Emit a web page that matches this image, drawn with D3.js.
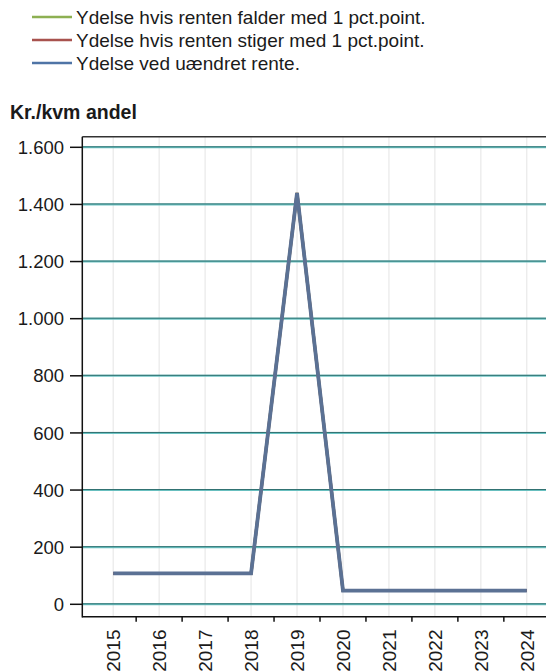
<!DOCTYPE html>
<html>
<head>
<meta charset="utf-8">
<script src="https://cdn.jsdelivr.net/npm/d3@7"></script>
<style>
  html, body { margin: 0; padding: 0; background: #fff; }
  svg { display: block; font-family: "Liberation Sans", Arial, sans-serif; }
</style>
</head>
<body>
<svg id="chart" width="546" height="672"></svg>
<script>
const years = ["2015","2016","2017","2018","2019","2020","2021","2022","2023","2024"];
const seriesNames = [
  "Ydelse hvis renten falder med 1 pct.point.",
  "Ydelse hvis renten stiger med 1 pct.point.",
  "Ydelse ved uændret rente."
];
const seriesColors = ["#8db052", "#a8524e", "#4f74a6"];
const valuesFalder = [108, 108, 108, 108, 1440, 48, 48, 48, 48, 48];
const valuesStiger = [108, 108, 108, 108, 1440, 48, 48, 48, 48, 48];
const valuesUaendret = [108, 108, 108, 108, 1440, 48, 48, 48, 48, 48];
const yTicks = [0, 200, 400, 600, 800, 1000, 1200, 1400, 1600];
const yTitle = "Kr./kvm andel";

const svg = d3.select("#chart");
const W = 546;
const plotLeft = 82.3, plotTop = 136.7, plotBottom = 616.7;

const x = d3.scaleBand().domain(years).range([90.2, 549.8]).padding(0);
const y = d3.scaleLinear().domain([0, 1600]).range([604.3, 147.3]);
const cx = d => x(d) + x.bandwidth() / 2;

// vertical light grid at category centers
svg.append("g").selectAll("line").data(years).join("line")
  .attr("x1", d => cx(d)).attr("x2", d => cx(d))
  .attr("y1", plotTop).attr("y2", plotBottom)
  .attr("stroke", "#e4e4e4").attr("stroke-width", 1);

// horizontal grid
const hg = svg.append("g");
hg.selectAll("line.a").data(yTicks).join("line").attr("class","a")
  .attr("x1", plotLeft).attr("x2", W)
  .attr("y1", d => y(d)).attr("y2", d => y(d))
  .attr("stroke", "#6cc4c4").attr("stroke-width", 2);
hg.selectAll("line.b").data(yTicks).join("line").attr("class","b")
  .attr("x1", plotLeft).attr("x2", W)
  .attr("y1", d => y(d) - 0.5).attr("y2", d => y(d) - 0.5)
  .attr("stroke", "#2f6f6f").attr("stroke-width", 1);

// frame
svg.append("line").attr("x1", plotLeft).attr("x2", W).attr("y1", plotTop).attr("y2", plotTop)
  .attr("stroke", "#333").attr("stroke-width", 1.5);
svg.append("line").attr("x1", plotLeft).attr("x2", plotLeft).attr("y1", plotTop).attr("y2", plotBottom + 0.75)
  .attr("stroke", "#111").attr("stroke-width", 1.5);
svg.append("line").attr("x1", plotLeft).attr("x2", W).attr("y1", plotBottom).attr("y2", plotBottom)
  .attr("stroke", "#111").attr("stroke-width", 1.5);

// y axis ticks and labels
const fmt = v => d3.format(",")(v).replace(/,/g, ".");
const ya = svg.append("g");
ya.selectAll("line").data(yTicks).join("line")
  .attr("x1", 70).attr("x2", plotLeft).attr("y1", d => y(d)).attr("y2", d => y(d))
  .attr("stroke", "#111").attr("stroke-width", 1.5);
ya.selectAll("text").data(yTicks).join("text")
  .attr("x", 64).attr("y", d => y(d)).attr("dy", "0.36em")
  .attr("text-anchor", "end").attr("font-size", 18.5).attr("fill", "#1a1a1a")
  .text(d => fmt(d));

// x axis ticks at band boundaries (interior)
const bounds = years.slice(1).map(d => x(d));
svg.append("g").selectAll("line").data(bounds).join("line")
  .attr("x1", d => d).attr("x2", d => d).attr("y1", plotBottom).attr("y2", plotBottom + 5)
  .attr("stroke", "#111").attr("stroke-width", 1.5);
svg.append("g").selectAll("text").data(years).join("text")
  .attr("transform", d => `translate(${cx(d)},629.5) rotate(-90)`)
  .attr("dy", "0.36em").attr("text-anchor", "end")
  .attr("font-size", 19).attr("fill", "#1a1a1a")
  .text(d => d);

// lines
const line = d3.line().x((d, i) => cx(years[i])).y(d => y(d));
[valuesFalder, valuesStiger, valuesUaendret].forEach((vals, i) => {
  svg.append("path").datum(vals)
    .attr("d", line).attr("fill", "none")
    .attr("stroke", i === 2 ? "#5b7194" : seriesColors[i])
    .attr("stroke-width", i === 2 ? 3.8 : 3).attr("stroke-linejoin", "miter");
});

// legend
const lg = svg.append("g");
seriesNames.forEach((n, i) => {
  const ly = 17 + i * 23;
  lg.append("line").attr("x1", 32).attr("x2", 72).attr("y1", ly).attr("y2", ly)
    .attr("stroke", seriesColors[i]).attr("stroke-width", 2.5);
  lg.append("text").attr("x", 76).attr("y", ly).attr("dy", "0.36em")
    .attr("font-size", 19).attr("fill", "#1a1a1a").text(n);
});

// y title
svg.append("text").attr("x", 10).attr("y", 112).attr("dy", "0.36em")
  .attr("font-size", 19.5).attr("font-weight", "bold").attr("fill", "#1a1a1a").text(yTitle);
</script>
</body>
</html>
